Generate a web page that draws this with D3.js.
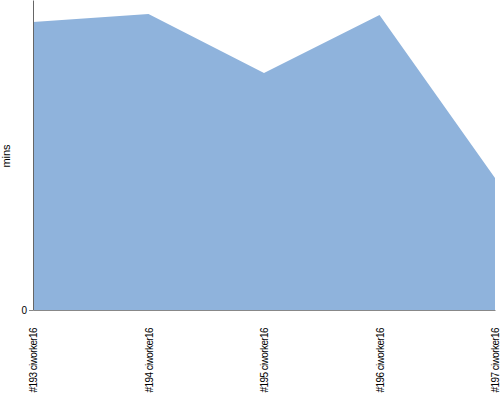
<!DOCTYPE html>
<html>
<head>
<meta charset="utf-8">
<script src="https://cdn.jsdelivr.net/npm/d3@7"></script>
<style>
  body { margin: 0; background: #fff; }
  text { font-family: "Liberation Sans", Arial, sans-serif; }
</style>
</head>
<body>
<div id="chart"></div>
<script>
const builds = ["#193 ciworker16", "#194 ciworker16", "#195 ciworker16", "#196 ciworker16", "#197 ciworker16"];
const mins = [28.8, 29.6, 23.7, 29.5, 13.2];
const yTicks = [0];

const margin = { top: 0, right: 5, bottom: 90, left: 33 };
const width = 500 - margin.left - margin.right;
const height = 400 - margin.top - margin.bottom;

const svg = d3.select("#chart").append("svg")
    .attr("width", 500)
    .attr("height", 400)
  .append("g")
    .attr("transform", "translate(" + margin.left + "," + margin.top + ")");

const x = d3.scalePoint().domain(builds).range([0, width]);
const y = d3.scaleLinear().domain([0, 31]).range([height, 0]);

const data = builds.map((b, i) => ({ build: b, value: mins[i] }));

// area
svg.append("path")
    .datum(data)
    .attr("fill", "#8fb3dc")
    .attr("d", d3.area()
        .x(d => x(d.build))
        .y0(height)
        .y1(d => y(d.value)));

// x axis
const xAxis = svg.append("g")
    .attr("transform", "translate(0," + height + ")")
    .call(d3.axisBottom(x).tickSize(0).tickPadding(0));
xAxis.select(".domain").attr("stroke", "#888");
xAxis.selectAll("text")
    .attr("font-size", 10)
    .attr("letter-spacing", "-0.6")
    .attr("fill", "#000")
    .attr("text-anchor", "end")
    .attr("transform", "rotate(-90)")
    .attr("x", -18)
    .attr("y", 0)
    .attr("dy", "0.35em");

// y axis
const yAxis = svg.append("g")
    .call(d3.axisLeft(y).tickValues(yTicks).tickSize(4).tickPadding(2).tickSizeOuter(0));
yAxis.select(".domain").attr("stroke", "#666");
yAxis.selectAll(".tick line").attr("stroke", "#888");
yAxis.selectAll("text").attr("font-size", 10).attr("fill", "#000");

svg.append("text")
    .attr("transform", "rotate(-90)")
    .attr("x", -156)
    .attr("y", -23)
    .attr("text-anchor", "middle")
    .attr("font-size", 11)
    .text("mins");
</script>
</body>
</html>
